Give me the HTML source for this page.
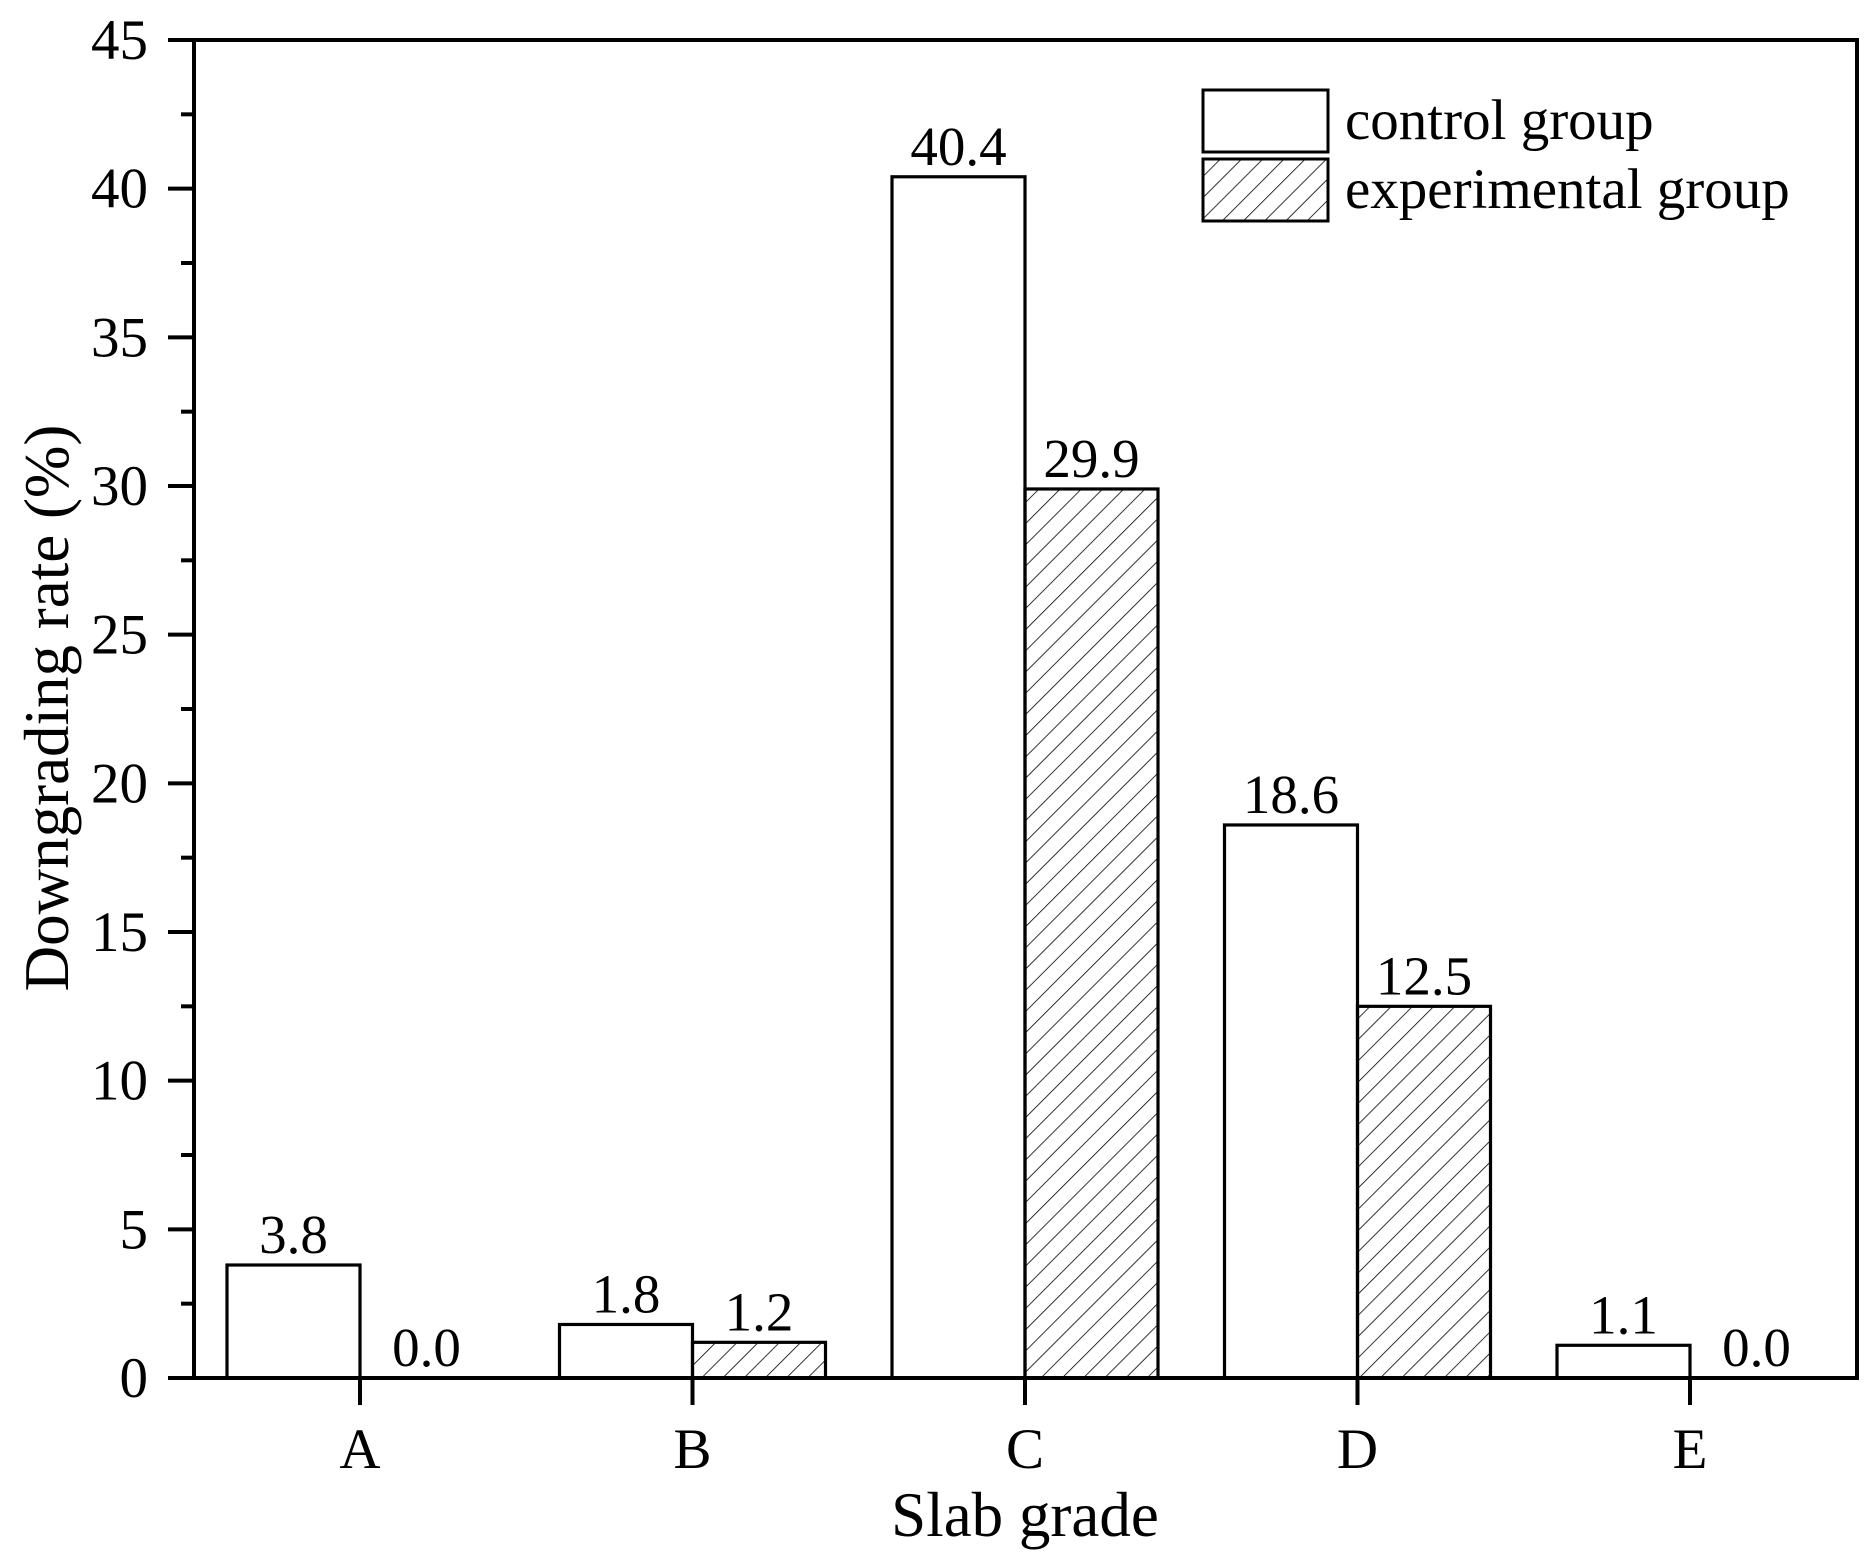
<!DOCTYPE html>
<html><head><meta charset="utf-8"><style>
html,body{margin:0;padding:0;background:#fff;}
svg{display:block;font-family:"Liberation Serif",serif;}
</style></head><body>
<svg id="chart" width="1875" height="1567" viewBox="0 0 1875 1567">
<defs>
<pattern id="hatch" patternUnits="userSpaceOnUse" width="15" height="15" patternTransform="rotate(45)">
<line x1="0" y1="0" x2="0" y2="15" stroke="#000" stroke-width="1.6"/>
</pattern>
</defs>
<g id="plot"></g>
</svg>
<script>
const categories=["A","B","C","D","E"];
const controlValues=[3.8,1.8,40.4,18.6,1.1];
const experimentalValues=[0.0,1.2,29.9,12.5,0.0];
const yTicks=[0,5,10,15,20,25,30,35,40,45];
const legendLabels=["control group","experimental group"];

const NS="http://www.w3.org/2000/svg";
const g=document.getElementById('plot');
const L=194,R=1857,T=40,B=1378,yMax=45;
const y=v=>B-(v/yMax)*(B-T);
const x0=360,step=332.5,bw=133;
const xc=i=>x0+i*step;
function mk(tag,attrs,parent){const e=document.createElementNS(NS,tag);for(const k in attrs)e.setAttribute(k,attrs[k]);(parent||g).appendChild(e);return e;}

categories.forEach((c,i)=>{
  const h1=B-y(controlValues[i]);
  const r1=mk('rect',{x:xc(i)-bw,y:y(controlValues[i]),width:bw,height:h1,fill:'#fff',stroke:'#000','stroke-width':3.2});
  
  
  const h2=B-y(experimentalValues[i]);
  if(h2>0){
    const r2=mk('rect',{x:xc(i),y:y(experimentalValues[i]),width:bw,height:h2,fill:'url(#hatch)',stroke:'#000','stroke-width':3.2});
    
    
  }
  const t1=mk('text',{x:xc(i)-bw/2,y:y(controlValues[i])-12,'font-size':55,'text-anchor':'middle'});
  t1.textContent=controlValues[i].toFixed(1);
  
  
  const t2=mk('text',{x:xc(i)+bw/2,y:y(experimentalValues[i])-12,'font-size':55,'text-anchor':'middle'});
  t2.textContent=experimentalValues[i].toFixed(1);
  
  
  const tk=mk('line',{x1:xc(i),y1:B,x2:xc(i),y2:B+27,stroke:'#000','stroke-width':4});
  
  
  const xl=mk('text',{x:xc(i),y:1468,'font-size':57,'text-anchor':'middle'});
  xl.textContent=c;
  
  
});

yTicks.forEach((v,i)=>{
  const t=mk('line',{x1:L-26,y1:y(v),x2:L,y2:y(v),stroke:'#000','stroke-width':4});
  
  
  const lb=mk('text',{x:148,y:y(v)+19,'font-size':57,'text-anchor':'end'});
  lb.textContent=v;
  
  
  if(i<yTicks.length-1){
    const m=mk('line',{x1:L-13,y1:y(v+2.5),x2:L,y2:y(v+2.5),stroke:'#000','stroke-width':4});
    
    
  }
});

const fr=mk('rect',{x:L,y:T,width:R-L,height:B-T,fill:'none',stroke:'#000','stroke-width':4});



const lg=mk('g',{});


const boxes=[[90,'#fff'],[159,'url(#hatch)']];
legendLabels.forEach((s,i)=>{
  const r=mk('rect',{x:1203,y:boxes[i][0],width:125,height:62,fill:boxes[i][1],stroke:'#000','stroke-width':3},lg);
  
  
  const t=mk('text',{x:1345,y:boxes[i][0]+49,'font-size':57},lg);
  t.textContent=s;
  
  
});

const xt=mk('text',{x:1025,y:1536,'font-size':63,'text-anchor':'middle'});
xt.textContent='Slab grade';


const yt=mk('text',{x:0,y:0,'font-size':63,'text-anchor':'middle',transform:'translate(68,708) rotate(-90)'});
yt.textContent='Downgrading rate (%)';


</script>
</body></html>
